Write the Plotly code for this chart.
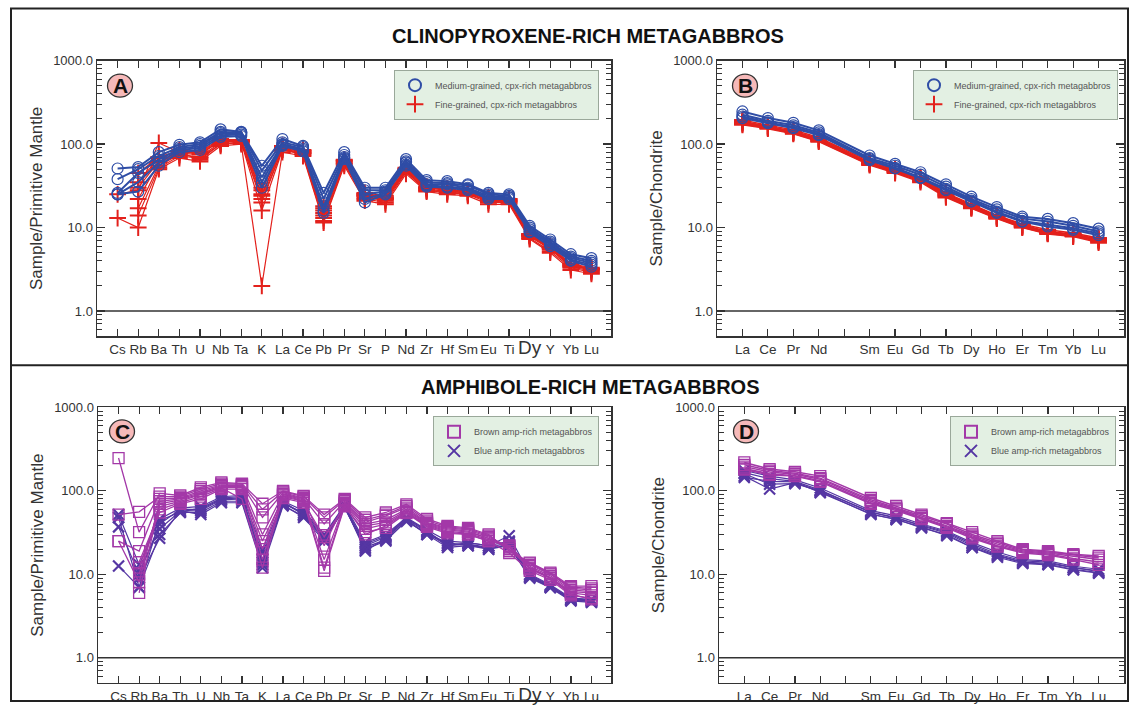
import plotly.graph_objects as go

# ---------------- DATA ----------------
PM_ELEMENTS = ["Cs", "Rb", "Ba", "Th", "U", "Nb", "Ta", "K", "La", "Ce", "Pb", "Pr",
               "Sr", "P", "Nd", "Zr", "Hf", "Sm", "Eu", "Ti", "Dy", "Y", "Yb", "Lu"]
REE_AXIS = ["La", "Ce", "Pr", "Nd", "Pm", "Sm", "Eu", "Gd", "Tb", "Dy", "Ho", "Er", "Tm", "Yb", "Lu"]
REE_ELEMENTS = ["La", "Ce", "Pr", "Nd", "Sm", "Eu", "Gd", "Tb", "Dy", "Ho", "Er", "Tm", "Yb", "Lu"]
Y_TICKS = [1, 10, 100, 1000]
Y_TICK_TEXT = ["1.0", "10.0", "100.0", "1000.0"]

# Panel A - primitive-mantle normalised, cpx-rich metagabbros
A_MEDIUM = [
    [51, 53, 80, 98, 105, 150, 140, 55, 115, 95, 26, 80, 30, 30, 66, 37, 36, 33, 26, 25, 10.5, 7.2, 4.8, 4.3],
    [38, 50, 72, 92, 100, 140, 138, 48, 105, 92, 22, 74, 28, 28, 62, 35, 34, 32, 25, 24, 10.0, 6.8, 4.5, 4.0],
    [26, 45, 65, 88, 95, 135, 135, 40, 100, 88, 18, 70, 25, 27, 60, 33, 33, 30, 24, 23, 9.5, 6.5, 4.3, 3.8],
    [25, 35, 60, 85, 90, 128, 130, 35, 98, 85, 16, 68, 20, 25, 57, 32, 31, 29, 23, 23, 9.0, 6.3, 4.1, 3.6],
    [25, 27, 55, 80, 85, 122, 125, 30, 95, 82, 15, 66, 22, 26, 55, 31, 30, 28, 22, 22, 8.8, 6.0, 4.0, 3.4],
]
A_FINE = [
    [13, 10, 50, 68, 62, 95, 100, 2.0, 80, 72, 11.5, 55, 21, 19, 44, 27, 25, 24, 19, 19, 7.3, 5.0, 3.1, 2.8],
    [25, 28, 103, 80, 65, 100, 105, 16, 85, 75, 12, 58, 22, 20, 46, 28, 26, 25, 20, 20, 7.5, 5.2, 3.3, 2.9],
    [None, 17, 55, 75, 70, 105, 108, 20, 88, 78, 13, 60, 23, 21, 48, 29, 27, 26, 21, 20, 7.8, 5.5, 3.4, 3.0],
    [None, 14, 52, 72, 68, 100, 105, 22, 86, 77, 14, 58, 24, 22, 47, 28, 27, 25, 21, 21, 8.0, 5.6, 3.5, 3.1],
    [None, 22, 60, 78, 75, 110, 110, 25, 90, 80, 15, 62, 25, 22, 50, 30, 28, 26, 22, 21, 8.2, 5.8, 3.6, 3.2],
    [None, 30, 62, 80, 78, 108, 108, 28, 92, 82, 16, 63, 24, 23, 50, 30, 28, 27, 22, 21, 8.0, 5.7, 3.5, 3.2],
    [None, 35, 68, 82, 80, 112, 112, 30, 95, 85, 18, 65, 26, 24, 52, 31, 29, 27, 22, 22, 8.4, 5.9, 3.7, 3.3],
    [None, 45, 70, 84, 82, 115, 112, 24, 93, 83, 17, 64, 25, 23, 51, 30, 29, 27, 23, 22, 8.3, 5.9, 3.6, 3.2],
]

# Panel B - chondrite normalised REE, cpx-rich metagabbros
B_MEDIUM = [
    [246, 205, 180, 146, 73, 58, 46, 33, 23.5, 17.6, 13.5, 12.7, 11.3, 9.7],
    [225, 190, 168, 138, 68, 55, 43, 31, 22, 16.5, 12.8, 11.8, 10.5, 9.0],
    [214, 182, 160, 132, 66, 52, 40, 29, 21, 15.5, 12.0, 10.8, 9.8, 8.5],
    [205, 178, 155, 128, 64, 51, 39, 28, 20.5, 15.0, 11.8, 10.3, 9.4, 8.1],
]
B_FINE = [
    [195, 168, 148, 120, 62, 50, 40, 26, 19, 14, 11, 9.4, 8.6, 7.5],
    [188, 165, 143, 117, 60, 49, 39, 25.5, 18.5, 13.8, 10.8, 9.0, 8.4, 7.3],
    [182, 160, 140, 114, 59, 48, 38, 25, 18, 13.5, 10.5, 8.8, 8.2, 7.1],
    [178, 158, 137, 111, 58, 47, 37, 24, 17.5, 13.2, 10.3, 8.6, 8.0, 7.0],
    [174, 156, 135, 109, 57, 46, 36, 23.5, 17.2, 13.0, 10.1, 8.5, 7.9, 6.8],
    [170, 153, 133, 107, 56, 45, 35, 23, 17, 12.8, 10.0, 8.4, 7.8, 6.6],
    [185, 162, 139, 115, 59, 48, 38, 24.5, 18, 13.4, 10.4, 8.7, 8.1, 7.2],
]

# Panel C - primitive-mantle normalised, amp-rich metagabbros
C_BROWN = [
    [247, 32, 93, 88, 110, 126, 122, 70, 100, 87, 52, 80, 48, 55, 69, 46, 38, 36, 30, 19, 13.8, 10.5, 7.2, 7.2],
    [52, 56, 85, 85, 105, 122, 120, 60, 98, 85, 48, 78, 45, 52, 66, 44, 37, 35, 29, 20, 13.5, 10.2, 7.0, 6.8],
    [25, 19, 80, 82, 100, 118, 118, 48, 95, 82, 40, 75, 42, 50, 63, 42, 36, 34, 28, 21, 13.0, 10.0, 6.8, 6.5],
    [25, 8, 75, 80, 95, 115, 115, 30, 92, 80, 22, 72, 40, 45, 60, 41, 35, 33, 27, 22, 12.5, 9.6, 6.5, 6.2],
    [None, 6, 70, 78, 92, 112, 112, 20, 90, 78, 15, 70, 38, 42, 58, 40, 34, 32, 27, 20, 12.0, 9.2, 6.2, 6.0],
    [None, 10, 65, 75, 90, 110, 110, 15, 88, 76, 12, 68, 35, 40, 56, 39, 33, 31, 26, 21, 11.5, 9.0, 6.0, 5.6],
    [None, 12, 60, 72, 85, 108, 80, 12, 85, 75, 11, 66, 30, 38, 55, 38, 32, 30, 25, 18, 11.0, 8.6, 5.6, 5.2],
    [None, 14, 55, 70, 80, 105, 105, 25, 82, 72, 28, 65, 32, 36, 54, 37, 31, 30, 25, 22, 11.8, 9.0, 5.8, 5.0],
]
C_BLUE = [
    [52, 13, 46, 62, 65, 85, 88, 20, 75, 58, 30, 68, 24, 30, 48, 34, 25, 24, 22, 29, 10.0, 7.5, 5.2, 5.0],
    [37, 10, 40, 60, 60, 80, 82, 15, 72, 52, 28, 66, 22, 28, 46, 32, 23, 23, 21, 24, 9.5, 7.2, 5.0, 4.8],
    [12.6, 7, 30, 55, 55, 75, 75, 13, 68, 48, 25, 64, 20, 25, 44, 30, 21, 22, 20, 22, 9.0, 6.9, 4.8, 4.6],
    [None, 9, 27, 58, 52, 72, 72, 12, 66, 50, 27, 62, 21, 26, 43, 31, 22, 23, 20, 23, 9.2, 7.0, 4.9, 4.7],
    [None, 11, 35, 57, 58, 78, 80, 18, 70, 55, 29, 65, 19, 27, 45, 30, 24, 22, 21, 22, 9.4, 7.1, 5.0, 4.8],
    [48, 7, 44, 56, 62, 82, 85, 14, 74, 52, 26, 63, 23, 29, 47, 33, 22, 24, 22, 25, 9.8, 7.3, 5.1, 4.9],
]

# Panel D - chondrite normalised REE, amp-rich metagabbros
D_BROWN = [
    [219, 182, 169, 150, 82, 66, 52, 41, 32, 25, 20, 19, 17.4, 16.6],
    [205, 175, 162, 142, 78, 63, 50, 40, 30, 24, 19.5, 18.5, 17, 15.8],
    [195, 168, 158, 138, 75, 61, 48, 38, 29, 23, 19, 18, 16.5, 15.0],
    [185, 160, 152, 132, 72, 60, 47, 37, 28, 22, 18.5, 17.5, 15.5, 14],
    [180, 155, 150, 128, 70, 58, 46, 36, 27, 21.5, 18, 17, 15, 13],
]
D_BLUE = [
    [175, 150, 135, 108, 58, 50, 40, 33, 24, 18.5, 15, 14.5, 12.5, 11.5],
    [165, 140, 130, 102, 55, 48, 38, 31, 22, 17, 14, 13.5, 12, 11],
    [150, 105, 125, 98, 52, 46, 36, 30, 21, 16.6, 13.8, 13.2, 11.5, 10.5],
    [145, 130, 128, 95, 53, 45, 37, 29, 21, 16, 13.5, 13, 11.3, 10.3],
    [160, 120, 122, 100, 56, 47, 39, 32, 23, 17.5, 14.5, 14, 12, 10.8],
]

# ---------------- STYLE ----------------
W, H = 1130, 706
# the photographed page shows the figure slightly lower and a little squeezed vertically;
# target window pixel y maps to figure pixel (y - Y_OFF) / Y_SCALE
Y_OFF = 7.5
Y_SCALE = 0.988
FONT = "Liberation Sans, Arial, sans-serif"
BLUE = "#2f4da6"
RED = "#e3211c"
PURPLE = "#a338a8"
VIOLET = "#5536a3"
AXC = "#333333"


def px(x):
    return x / W


def py(y):
    return 1 - ((y - Y_OFF) / Y_SCALE) / H


# panel pixel boxes (left, right, top, bottom) in target-window pixels
PANELS = {
    "A": (97, 611, 61, 336),
    "B": (717, 1124, 61, 336),
    "C": (98, 611, 407, 682),
    "D": (719, 1124, 407, 682),
}

fig = go.Figure()


def add_group(samples, cats, xa, ya, color, symbol, msize, mlw, lw, name, legend, rank):
    for s in samples:
        fig.add_trace(go.Scatter(
            x=cats, y=s, xaxis=xa, yaxis=ya, mode="lines+markers",
            line=dict(color=color, width=lw),
            marker=dict(symbol=symbol, size=msize, color=color, line=dict(color=color, width=mlw)),
            showlegend=False, legend=legend, hoverinfo="skip", connectgaps=False,
        ))
    fig.add_trace(go.Scatter(
        x=[None], y=[None], xaxis=xa, yaxis=ya, mode="markers", name=name,
        marker=dict(symbol=symbol, size=9, color=color, line=dict(color=color, width=2.2)),
        showlegend=True, legend=legend, legendrank=rank,
    ))


add_group(A_FINE, PM_ELEMENTS, "x", "y", RED, "cross-thin-open", 12, 2, 1.2,
          "Fine-grained, cpx-rich metagabbros", "legend", 2)
add_group(A_MEDIUM, PM_ELEMENTS, "x", "y", BLUE, "circle-open", 11, 1.2, 2,
          "Medium-grained, cpx-rich metagabbros", "legend", 1)
add_group(B_FINE, REE_ELEMENTS, "x2", "y2", RED, "cross-thin-open", 12, 2, 1.5,
          "Fine-grained, cpx-rich metagabbros", "legend2", 2)
add_group(B_MEDIUM, REE_ELEMENTS, "x2", "y2", BLUE, "circle-open", 11, 1.2, 2,
          "Medium-grained, cpx-rich metagabbros", "legend2", 1)
add_group(C_BLUE, PM_ELEMENTS, "x3", "y3", VIOLET, "x-thin-open", 11, 2.2, 1.2,
          "Blue amp-rich metagabbros", "legend3", 2)
add_group(C_BROWN, PM_ELEMENTS, "x3", "y3", PURPLE, "square-open", 11, 1.3, 1.3,
          "Brown amp-rich metagabbros", "legend3", 1)
add_group(D_BLUE, REE_ELEMENTS, "x4", "y4", VIOLET, "x-thin-open", 11, 2.2, 1.2,
          "Blue amp-rich metagabbros", "legend4", 2)
add_group(D_BROWN, REE_ELEMENTS, "x4", "y4", PURPLE, "square-open", 11, 1.3, 1.5,
          "Brown amp-rich metagabbros", "legend4", 1)

minor_vals = [m * d for d in (0.1, 1, 10, 100) for m in range(2, 10) if 0.5 <= m * d <= 1000]

pm_ticktext = [("<span style='font-size:19px'>Dy</span>" if e == "Dy" else e) for e in PM_ELEMENTS]
ree_ticktext = ["" if e == "Pm" else e for e in REE_AXIS]


def yaxis(panel, ytitle):
    l, r, t, b = PANELS[panel]
    return dict(
        type="log", range=[-0.30103, 3], domain=[py(b), py(t)],
        tickmode="array", tickvals=Y_TICKS, ticktext=Y_TICK_TEXT,
        ticks="inside", ticklen=8, tickwidth=1.2, tickcolor=AXC,
        minor=dict(tickvals=minor_vals, ticks="inside", ticklen=5, tickcolor=AXC, tickwidth=1, showgrid=False),
        showline=True, linecolor=AXC, linewidth=1.5, mirror="ticks",
        showgrid=False, zeroline=False,
        tickfont=dict(family=FONT, size=13, color=AXC),
        title=dict(text=ytitle, font=dict(family=FONT, size=17, color=AXC), standoff=6),
    )


def xaxis(panel, cats, ticktext, rng):
    l, r, t, b = PANELS[panel]
    return dict(
        type="category", categoryorder="array", categoryarray=cats, range=rng,
        domain=[px(l), px(r)], tickmode="array", tickvals=cats, ticktext=ticktext,
        ticks="inside", ticklen=7, tickwidth=1.2, tickcolor=AXC,
        showline=True, linecolor=AXC, linewidth=1.5, mirror="ticks",
        showgrid=False, zeroline=False, tickangle=0,
        tickfont=dict(family=FONT, size=13.5, color=AXC),
    )


layout = dict(
    width=W, height=H, autosize=False,
    margin=dict(l=0, r=0, t=0, b=0),
    paper_bgcolor="white", plot_bgcolor="white",
    font=dict(family=FONT, color=AXC),
    xaxis=xaxis("A", PM_ELEMENTS, pm_ticktext, [-1, 23.95]),
    yaxis=yaxis("A", "Sample/Primitive Mantle"),
    xaxis2=xaxis("B", REE_AXIS, ree_ticktext, [-1, 15]),
    yaxis2=yaxis("B", "Sample/Chondrite"),
    xaxis3=xaxis("C", PM_ELEMENTS, pm_ticktext, [-1, 23.95]),
    yaxis3=yaxis("C", "Sample/Primitive Mantle"),
    xaxis4=xaxis("D", REE_AXIS, ree_ticktext, [-1, 15]),
    yaxis4=yaxis("D", "Sample/Chondrite"),
)
layout["xaxis2"]["anchor"] = "y2"
layout["yaxis2"]["anchor"] = "x2"
layout["xaxis3"]["anchor"] = "y3"
layout["yaxis3"]["anchor"] = "x3"
layout["xaxis4"]["anchor"] = "y4"
layout["yaxis4"]["anchor"] = "x4"


def legend_box(right_px, top_px):
    return dict(
        x=px(right_px), y=py(top_px), xanchor="right", yanchor="top",
        xref="paper", yref="paper",
        bgcolor="#e3f0e3", bordercolor="#9aa89a", borderwidth=1,
        font=dict(family=FONT, size=9, color="#555555"),
        itemsizing="constant", itemwidth=30, tracegroupgap=0, traceorder="normal",
    )


layout["legend"] = legend_box(599, 70)
layout["legend2"] = legend_box(1118, 70)
layout["legend3"] = legend_box(599, 416)
layout["legend4"] = legend_box(1116, 416)
fig.update_layout(**layout)

shapes = []
annotations = []
# outer border and divider
shapes.append(dict(type="rect", xref="paper", yref="paper", x0=px(11), x1=px(1128), y0=py(700), y1=py(9),
                   line=dict(color="#222", width=2)))
shapes.append(dict(type="line", xref="paper", yref="paper", x0=px(11), x1=px(1128), y0=py(365), y1=py(365),
                   line=dict(color="#222", width=2)))
# y = 1 reference lines
for ya, xa in (("y", "x"), ("y2", "x2"), ("y3", "x3"), ("y4", "x4")):
    shapes.append(dict(type="line", xref=f"{xa} domain", yref=ya, x0=0, x1=1, y0=1, y1=1,
                       line=dict(color=AXC, width=1.5)))
# panel letters
for letter, (cx, cy) in {"A": (120, 86), "B": (745, 86), "C": (122, 431), "D": (746, 431)}.items():
    shapes.append(dict(type="circle", xref="paper", yref="paper",
                       x0=px(cx - 12.5), x1=px(cx + 12.5), y0=py(cy + 11.5), y1=py(cy - 11.5),
                       fillcolor="#f6b9b9", line=dict(color="#333", width=1.3)))
    annotations.append(dict(text=f"<b>{letter}</b>", x=px(cx), y=py(cy), xref="paper", yref="paper",
                            showarrow=False, xanchor="center", yanchor="middle",
                            font=dict(family=FONT, size=21, color="#111")))
# titles
annotations.append(dict(text="<b>CLINOPYROXENE-RICH METAGABBROS</b>", x=px(588), y=py(36), xref="paper",
                        yref="paper", showarrow=False, xanchor="center", yanchor="middle",
                        font=dict(family=FONT, size=20, color="#111")))
annotations.append(dict(text="<b>AMPHIBOLE-RICH METAGABBROS</b>", x=px(590), y=py(387), xref="paper",
                        yref="paper", showarrow=False, xanchor="center", yanchor="middle",
                        font=dict(family=FONT, size=20, color="#111")))
fig.update_layout(shapes=shapes, annotations=annotations)

fig.write_html(
    "out.html",
    config={"displayModeBar": False, "staticPlot": True},
    post_script=(
        "document.body.style.margin='0';document.body.style.padding='0';"
        "document.body.style.overflow='hidden';"
        "document.documentElement.style.overflow='hidden';"
    ),
)
